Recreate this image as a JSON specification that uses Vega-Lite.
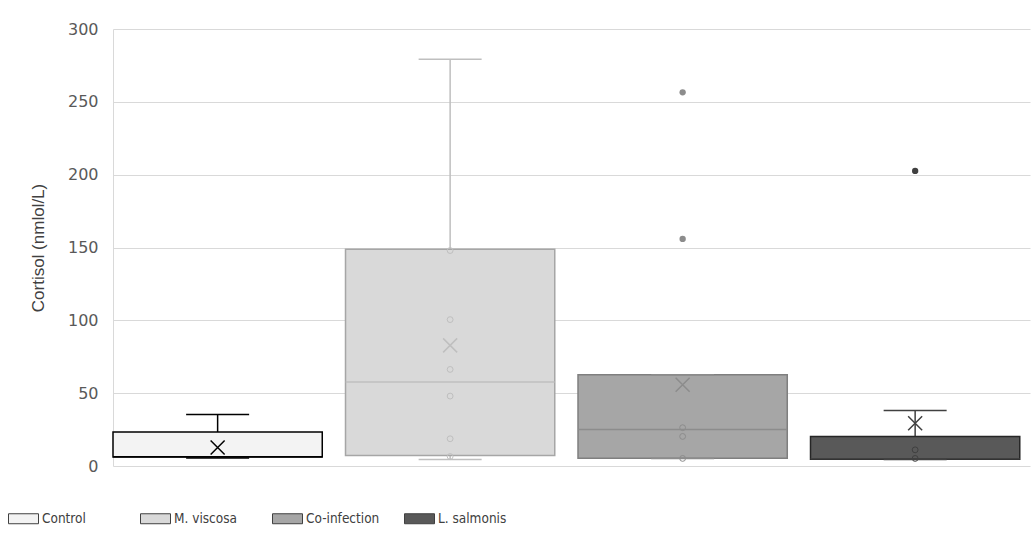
{
  "$schema": "https://vega.github.io/schema/vega-lite/v6.json",
  "width": 917,
  "height": 437,
  "autosize": "none",
  "padding": {"left": 113, "top": 29, "right": 4, "bottom": 76},
  "background": "white",
  "datasets": {
    "boxes": [
      {"group": "Control", "lo": 5.5, "q1": 6.2, "median": 6.3, "q3": 23.4, "hi": 35.4, "mean": 12.7},
      {"group": "M. viscosa", "lo": 4.5, "q1": 7.2, "median": 57.6, "q3": 148.8, "hi": 279.2, "mean": 82.8},
      {"group": "Co-infection", "lo": 5.2, "q1": 5.4, "median": 25.1, "q3": 62.7, "hi": 62.7, "mean": 55.8},
      {"group": "L. salmonis", "lo": 4.5, "q1": 4.6, "median": 5.0, "q3": 20.3, "hi": 38.1, "mean": 29.4}
    ],
    "points": [
      {"group": "M. viscosa", "value": 147.9, "kind": "inner"},
      {"group": "M. viscosa", "value": 100.5, "kind": "inner"},
      {"group": "M. viscosa", "value": 66.3, "kind": "inner"},
      {"group": "M. viscosa", "value": 48.0, "kind": "inner"},
      {"group": "M. viscosa", "value": 18.7, "kind": "inner"},
      {"group": "M. viscosa", "value": 6.5, "kind": "inner"},
      {"group": "Co-infection", "value": 26.3, "kind": "inner"},
      {"group": "Co-infection", "value": 20.3, "kind": "inner"},
      {"group": "Co-infection", "value": 5.2, "kind": "inner"},
      {"group": "Co-infection", "value": 256.5, "kind": "outlier"},
      {"group": "Co-infection", "value": 155.9, "kind": "outlier"},
      {"group": "L. salmonis", "value": 11.1, "kind": "inner"},
      {"group": "L. salmonis", "value": 5.2, "kind": "inner"},
      {"group": "L. salmonis", "value": 202.6, "kind": "outlier"}
    ]
  },
  "encoding": {
    "x": {
      "field": "group",
      "type": "nominal",
      "sort": ["Control", "M. viscosa", "Co-infection", "L. salmonis"],
      "scale": {"domain": ["Control", "M. viscosa", "Co-infection", "L. salmonis"], "paddingInner": 0.1, "paddingOuter": 0.022, "align": 0},
      "axis": null
    }
  },
  "layer": [
    {
      "data": {"name": "boxes"},
      "mark": {"type": "rule", "strokeWidth": 1.5},
      "encoding": {
        "y": {"field": "lo", "type": "quantitative", "scale": {"domain": [0, 300], "nice": false}, "title": "Cortisol (nmlol/L)"},
        "y2": {"field": "hi"},
        "color": {"field": "group", "type": "nominal", "scale": {"domain": ["L. salmonis", "Co-infection", "M. viscosa", "Control"], "range": ["#404040", "#8c8c8c", "#bfbfbf", "#000000"]}, "legend": null}
      }
    },
    {
      "data": {"name": "boxes"},
      "mark": {"type": "bar", "strokeWidth": 1.5, "opacity": 1},
      "encoding": {
        "y": {"field": "q1", "type": "quantitative", "scale": {"domain": [0, 300], "nice": false}, "title": "Cortisol (nmlol/L)"},
        "y2": {"field": "q3"},
        "fill": {
          "field": "group", "type": "nominal",
          "scale": {"domain": ["Control", "M. viscosa", "Co-infection", "L. salmonis"], "range": ["#f3f3f3", "#d9d9d9", "#a6a6a6", "#595959"]},
          "legend": {"orient": "none", "legendX": -105, "legendY": 474, "direction": "horizontal", "columns": 4, "gridAlign": "all", "columnPadding": 22, "title": null, "symbolType": "M-1,-0.333H1V0.333H-1Z", "symbolSize": 900, "symbolStrokeWidth": 1, "symbolStrokeColor": "#404040", "labelFont": "'DejaVu Sans Condensed', 'Liberation Sans Narrow', 'Liberation Sans', sans-serif", "labelFontSize": 13.5, "labelColor": "#404040", "labelOffset": 3, "padding": 0}
        },
        "stroke": {
          "field": "group", "type": "nominal",
          "scale": {"domain": ["M. viscosa", "Control", "L. salmonis", "Co-infection"], "range": ["#a6a6a6", "#000000", "#262626", "#7f7f7f"]},
          "legend": null
        }
      }
    },
    {
      "data": {"name": "boxes"},
      "mark": {"type": "tick", "size": 209, "thickness": 1.5, "opacity": 1},
      "encoding": {
        "y": {"field": "median", "type": "quantitative", "scale": {"domain": [0, 300], "nice": false}, "title": "Cortisol (nmlol/L)"},
        "color": {"field": "group", "type": "nominal", "scale": {"domain": ["L. salmonis", "Co-infection", "M. viscosa", "Control"], "range": ["#404040", "#8c8c8c", "#bfbfbf", "#000000"]}, "legend": null}
      }
    },
    {
      "data": {"name": "boxes"},
      "mark": {"type": "tick", "size": 63, "thickness": 1.5, "opacity": 1},
      "encoding": {
        "y": {"field": "lo", "type": "quantitative", "scale": {"domain": [0, 300], "nice": false}, "title": "Cortisol (nmlol/L)"},
        "color": {"field": "group", "type": "nominal", "scale": {"domain": ["L. salmonis", "Co-infection", "M. viscosa", "Control"], "range": ["#404040", "#8c8c8c", "#bfbfbf", "#000000"]}, "legend": null}
      }
    },
    {
      "data": {"name": "boxes"},
      "mark": {"type": "tick", "size": 63, "thickness": 1.5, "opacity": 1},
      "encoding": {
        "y": {"field": "hi", "type": "quantitative", "scale": {"domain": [0, 300], "nice": false}, "title": "Cortisol (nmlol/L)"},
        "color": {"field": "group", "type": "nominal", "scale": {"domain": ["L. salmonis", "Co-infection", "M. viscosa", "Control"], "range": ["#404040", "#8c8c8c", "#bfbfbf", "#000000"]}, "legend": null}
      }
    },
    {
      "data": {"name": "boxes"},
      "mark": {"type": "point", "shape": "M-1,-1L1,1M-1,1L1,-1", "size": 196, "filled": false, "strokeWidth": 1.5, "opacity": 1},
      "encoding": {
        "y": {"field": "mean", "type": "quantitative", "scale": {"domain": [0, 300], "nice": false}, "title": "Cortisol (nmlol/L)"},
        "color": {"field": "group", "type": "nominal", "scale": {"domain": ["L. salmonis", "Co-infection", "M. viscosa", "Control"], "range": ["#404040", "#8c8c8c", "#bfbfbf", "#000000"]}, "legend": null}
      }
    },
    {
      "data": {"name": "points"},
      "transform": [{"filter": "datum.kind == 'inner'"}],
      "mark": {"type": "point", "shape": "circle", "size": 34, "filled": false, "strokeWidth": 1, "opacity": 1},
      "encoding": {
        "y": {"field": "value", "type": "quantitative", "scale": {"domain": [0, 300], "nice": false}, "title": "Cortisol (nmlol/L)"},
        "color": {"field": "group", "type": "nominal", "scale": {"domain": ["L. salmonis", "Co-infection", "M. viscosa", "Control"], "range": ["#404040", "#8c8c8c", "#bfbfbf", "#000000"]}, "legend": null}
      }
    },
    {
      "data": {"name": "points"},
      "transform": [{"filter": "datum.kind == 'outlier'"}],
      "mark": {"type": "point", "shape": "circle", "size": 40, "filled": true, "opacity": 1},
      "encoding": {
        "y": {"field": "value", "type": "quantitative", "scale": {"domain": [0, 300], "nice": false}, "title": "Cortisol (nmlol/L)"},
        "color": {"field": "group", "type": "nominal", "scale": {"domain": ["L. salmonis", "Co-infection", "M. viscosa", "Control"], "range": ["#404040", "#8c8c8c", "#bfbfbf", "#000000"]}, "legend": null}
      }
    }
  ],
  "config": {
    "view": {"stroke": null},
    "axisY": {
      "grid": true, "gridColor": "#d9d9d9", "gridWidth": 1,
      "domain": true, "domainColor": "#d9d9d9", "domainWidth": 1,
      "ticks": false, "tickCount": 6,
      "labelFont": "DejaVu Sans", "labelFontSize": 16, "labelColor": "#595959", "labelPadding": 15,
      "titleFont": "Liberation Sans", "titleFontSize": 17, "titleColor": "#404040", "titleFontWeight": "normal", "titlePadding": 20
    }
  }
}
